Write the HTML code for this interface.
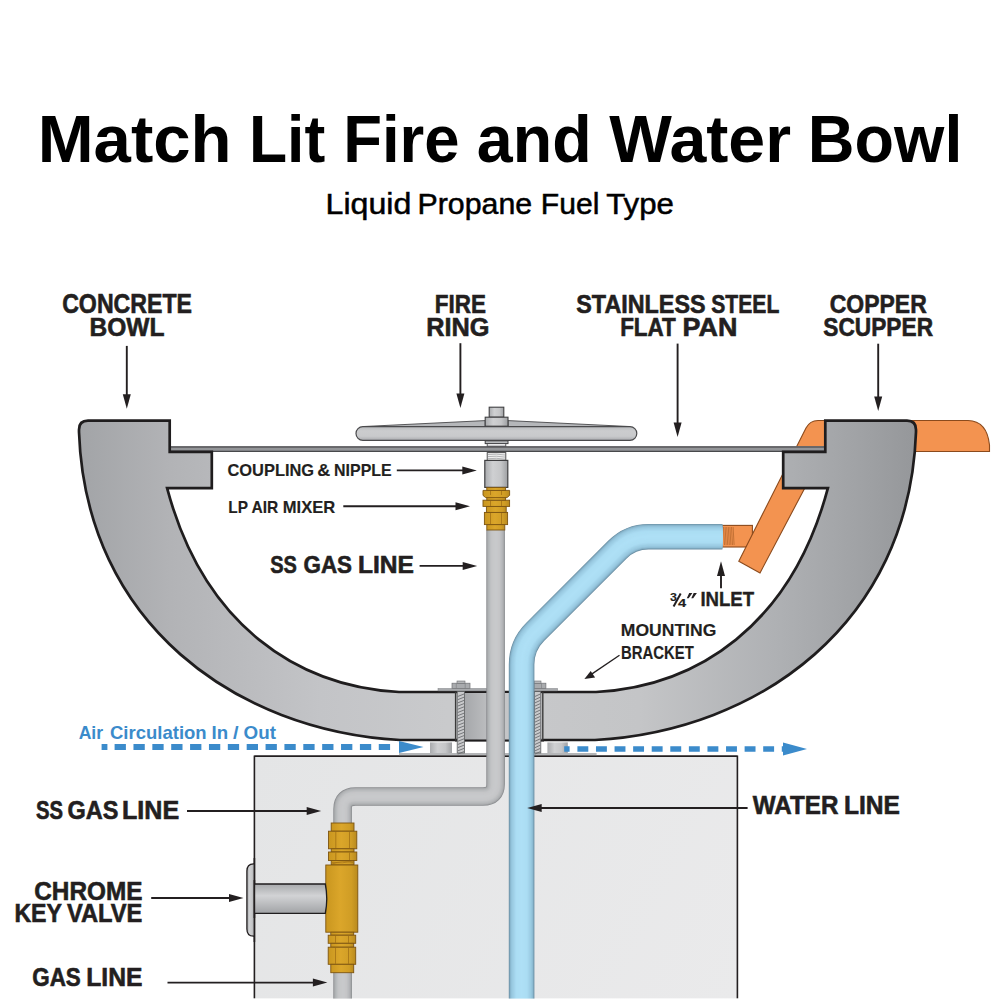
<!DOCTYPE html>
<html><head><meta charset="utf-8"><style>
html,body{margin:0;padding:0;background:#fff;width:1000px;height:1000px;overflow:hidden}
svg{display:block}
text{font-family:"Liberation Sans",sans-serif}
</style></head><body>
<svg width="1000" height="1000" viewBox="0 0 1000 1000">
<defs>
<linearGradient id="bowlG" gradientUnits="userSpaceOnUse" x1="79" y1="0" x2="916" y2="0">
 <stop offset="0" stop-color="#a2a4a7"/><stop offset="0.109" stop-color="#b2b3b6"/><stop offset="0.288" stop-color="#c3c4c7"/><stop offset="0.44" stop-color="#c9cacc"/><stop offset="0.67" stop-color="#c4c5c7"/><stop offset="0.838" stop-color="#aeb0b3"/><stop offset="0.933" stop-color="#a0a2a5"/><stop offset="1" stop-color="#95979a"/>
</linearGradient>
<linearGradient id="midG" gradientUnits="userSpaceOnUse" x1="464" y1="0" x2="541" y2="0">
 <stop offset="0" stop-color="#a5a7aa"/><stop offset="0.4" stop-color="#c3c4c6"/><stop offset="1" stop-color="#c7c8ca"/>
</linearGradient>
<linearGradient id="boxG" gradientUnits="userSpaceOnUse" x1="254" y1="756" x2="738" y2="998">
 <stop offset="0" stop-color="#e4e5e6"/><stop offset="1" stop-color="#eaeaeb"/>
</linearGradient>
<linearGradient id="pipeV" x1="0" y1="0" x2="1" y2="0">
 <stop offset="0" stop-color="#a9abae"/><stop offset="0.35" stop-color="#cfd0d2"/><stop offset="0.7" stop-color="#c5c6c8"/><stop offset="1" stop-color="#9d9fa2"/>
</linearGradient>
<linearGradient id="brassV" x1="0" y1="0" x2="1" y2="0">
 <stop offset="0" stop-color="#c9961f"/><stop offset="0.45" stop-color="#dba62a"/><stop offset="0.8" stop-color="#d09d25"/><stop offset="1" stop-color="#b98a1e"/>
</linearGradient>
<linearGradient id="ringV" x1="0" y1="0" x2="0" y2="1">
 <stop offset="0" stop-color="#b9bbbe"/><stop offset="0.3" stop-color="#cbccce"/><stop offset="0.7" stop-color="#c9cacc"/><stop offset="1" stop-color="#a9abae"/>
</linearGradient>
<linearGradient id="steelV" x1="0" y1="0" x2="0" y2="1">
 <stop offset="0" stop-color="#a7a9ac"/><stop offset="0.4" stop-color="#d2d3d5"/><stop offset="1" stop-color="#a1a3a6"/>
</linearGradient>
</defs>
<text x="37.7" y="162" font-size="67.25" font-weight="700" textLength="193.87" lengthAdjust="spacingAndGlyphs" fill="#000" >Match</text>
<text x="249.03" y="162" font-size="67.25" font-weight="700" textLength="76.2" lengthAdjust="spacingAndGlyphs" fill="#000" >Lit</text>
<text x="343.16" y="162" font-size="67.25" font-weight="700" textLength="116.4" lengthAdjust="spacingAndGlyphs" fill="#000" >Fire</text>
<text x="476.86" y="162" font-size="67.25" font-weight="700" textLength="114.83" lengthAdjust="spacingAndGlyphs" fill="#000" >and</text>
<text x="609.3" y="162" font-size="67.25" font-weight="700" textLength="181.75" lengthAdjust="spacingAndGlyphs" fill="#000" >Water</text>
<text x="807.87" y="162" font-size="67.25" font-weight="700" textLength="154.58" lengthAdjust="spacingAndGlyphs" fill="#000" >Bowl</text>
<text x="325.53" y="214" font-size="29.57" font-weight="400" textLength="85.79" lengthAdjust="spacingAndGlyphs" fill="#000" stroke="#000" stroke-width="0.5">Liquid</text>
<text x="417.47" y="214" font-size="29.57" font-weight="400" textLength="114.66" lengthAdjust="spacingAndGlyphs" fill="#000" stroke="#000" stroke-width="0.5">Propane</text>
<text x="540.79" y="214" font-size="29.57" font-weight="400" textLength="58.58" lengthAdjust="spacingAndGlyphs" fill="#000" stroke="#000" stroke-width="0.5">Fuel</text>
<text x="606.28" y="214" font-size="29.57" font-weight="400" textLength="67.62" lengthAdjust="spacingAndGlyphs" fill="#000" stroke="#000" stroke-width="0.5">Type</text>
<rect x="254.4" y="756.2" width="483" height="242.4" fill="url(#boxG)"/>
<path d="M254.4,998.6 V756.2 H737.4 V998.6" fill="none" stroke="#231f20" stroke-width="1.6"/>
<rect x="399" y="753" width="197.6" height="2.6" fill="#b4b6b8"/>
<line x1="254.4" y1="756.2" x2="737.4" y2="756.2" stroke="#231f20" stroke-width="1.6"/>
<rect x="430" y="742.4" width="22" height="10.6" fill="url(#pipeV)"/>
<rect x="547.4" y="742.4" width="20.4" height="10.6" fill="url(#pipeV)"/>
<rect x="722.4" y="525.4" width="30" height="21.6" fill="#f39350" stroke="#8b4a1c" stroke-width="1.1"/>
<path d="M723.5,527 L724.5,545 M725.1,527 L726.1,545 M726.7,527 L727.7,545 M728.3,527 L729.3,545 M729.9,527 L730.9,545 M731.5,527 L732.5,545 M733.1,527 L734.1,545 " stroke="#a55a22" stroke-width="0.6" fill="none"/>
<path d="M805,451.5 L970,451.5 L989.5,451.5 L989.5,445 Q987,421 968,420.5 L818,420.5 Q810,420.5 806,428 L738.8,561.2 L760,572.9 L827,446 Z" fill="#f39350" stroke="#8b4a1c" stroke-width="1.1"/>
<rect x="170.8" y="446.2" width="653.4" height="5.8" fill="#939598"/>
<line x1="170.8" y1="447" x2="824.2" y2="447" stroke="#58595b" stroke-width="1.6"/>
<line x1="170.8" y1="451.3" x2="824.2" y2="451.3" stroke="#48494b" stroke-width="1.3"/>
<path d="M79,432 L79,429.7 Q79,420.7 88,420.7 L169.7,420.7 L169.7,451.9 L211.8,451.9 L211.8,488.2 L167.1,488.2 C203.9,625.7 297.9,686.5 399,692 L596,692 C697.1,686.5 791.1,625.7 827.9,488.2 L783.2,488.2 L783.2,451.9 L825.3,451.9 L825.3,420.7 L907,420.7 Q916,420.7 916,429.7 L916,432 C909.3,623.5 759.2,730.8 595,740 L400,740 C235.8,730.8 85.7,623.5 79,432 Z" fill="url(#bowlG)" stroke="#1f1d1e" stroke-width="2.7" stroke-linejoin="miter"/>
<rect x="464.5" y="692" width="77" height="48.5" fill="url(#midG)"/>
<line x1="455" y1="692" x2="544" y2="692" stroke="#1f1d1e" stroke-width="2"/>
<line x1="455" y1="740.6" x2="544" y2="740.6" stroke="#1f1d1e" stroke-width="2"/>
<line x1="455.6" y1="692" x2="455.6" y2="740.6" stroke="#3a3a3a" stroke-width="1.4"/>
<line x1="542.8" y1="692" x2="542.8" y2="740.6" stroke="#3a3a3a" stroke-width="1.4"/>
<rect x="438" y="688.5" width="48.5" height="2.4" fill="#a8aaad" stroke="#7d7f82" stroke-width="0.5"/>
<rect x="534" y="688.5" width="23.6" height="2.4" fill="#a8aaad" stroke="#7d7f82" stroke-width="0.5"/>
<rect x="457.2" y="691.5" width="7.3" height="61.5" fill="#c9cacc" stroke="#5a5c5e" stroke-width="0.8"/>
<path d="M457.7,696.5 L464.0,694 M457.7,699.7 L464.0,697.2 M457.7,702.9000000000001 L464.0,700.4000000000001 M457.7,706.1000000000001 L464.0,703.6000000000001 M457.7,709.3000000000002 L464.0,706.8000000000002 M457.7,712.5000000000002 L464.0,710.0000000000002 M457.7,715.7000000000003 L464.0,713.2000000000003 M457.7,718.9000000000003 L464.0,716.4000000000003 M457.7,722.1000000000004 L464.0,719.6000000000004 M457.7,725.3000000000004 L464.0,722.8000000000004 M457.7,728.5000000000005 L464.0,726.0000000000005 M457.7,731.7000000000005 L464.0,729.2000000000005 M457.7,734.9000000000005 L464.0,732.4000000000005 M457.7,738.1000000000006 L464.0,735.6000000000006 M457.7,741.3000000000006 L464.0,738.8000000000006 M457.7,744.5000000000007 L464.0,742.0000000000007 M457.7,747.7000000000007 L464.0,745.2000000000007 M457.7,750.9000000000008 L464.0,748.4000000000008 M457.7,754.1000000000008 L464.0,751.6000000000008 " stroke="#6b6d70" stroke-width="0.9" fill="none"/>
<rect x="534.4" y="691.5" width="6.4" height="61.5" fill="#c9cacc" stroke="#5a5c5e" stroke-width="0.8"/>
<path d="M534.9,696.5 L540.3,694 M534.9,699.7 L540.3,697.2 M534.9,702.9000000000001 L540.3,700.4000000000001 M534.9,706.1000000000001 L540.3,703.6000000000001 M534.9,709.3000000000002 L540.3,706.8000000000002 M534.9,712.5000000000002 L540.3,710.0000000000002 M534.9,715.7000000000003 L540.3,713.2000000000003 M534.9,718.9000000000003 L540.3,716.4000000000003 M534.9,722.1000000000004 L540.3,719.6000000000004 M534.9,725.3000000000004 L540.3,722.8000000000004 M534.9,728.5000000000005 L540.3,726.0000000000005 M534.9,731.7000000000005 L540.3,729.2000000000005 M534.9,734.9000000000005 L540.3,732.4000000000005 M534.9,738.1000000000006 L540.3,735.6000000000006 M534.9,741.3000000000006 L540.3,738.8000000000006 M534.9,744.5000000000007 L540.3,742.0000000000007 M534.9,747.7000000000007 L540.3,745.2000000000007 M534.9,750.9000000000008 L540.3,748.4000000000008 M534.9,754.1000000000008 L540.3,751.6000000000008 " stroke="#6b6d70" stroke-width="0.9" fill="none"/>
<rect x="452" y="683.2" width="18" height="5.4" fill="#a9abae" stroke="#6f7174" stroke-width="0.7"/>
<path d="M456.3,683.5 V688.3 M465.2,683.5 V688.3" stroke="#7a7c7f" stroke-width="0.6"/>
<rect x="457" y="681" width="8" height="2.3" fill="#b5b7b9" stroke="#6f7174" stroke-width="0.6"/>
<rect x="534.5" y="683.2" width="11.4" height="5.4" fill="#a9abae" stroke="#6f7174" stroke-width="0.7"/>
<path d="M541.5,683.5 V688.3" stroke="#7a7c7f" stroke-width="0.6"/>
<rect x="534.5" y="681" width="6.5" height="2.3" fill="#b5b7b9" stroke="#6f7174" stroke-width="0.6"/>
<path d="M495.6,530 L495.6,784 Q495.6,796.5 483,796.5 L355.4,796.5 Q342.6,796.5 342.6,809 L342.6,1000" fill="none" stroke="#8a8c8f" stroke-width="18.6" />
<path d="M495.6,530 L495.6,784 Q495.6,796.5 483,796.5 L355.4,796.5 Q342.6,796.5 342.6,809 L342.6,1000" fill="none" stroke="#a2a4a7" stroke-width="17.2" />
<path d="M495.6,530 L495.6,784 Q495.6,796.5 483,796.5 L355.4,796.5 Q342.6,796.5 342.6,809 L342.6,1000" fill="none" stroke="#adafb1" stroke-width="15.8" />
<path d="M495.6,530 L495.6,784 Q495.6,796.5 483,796.5 L355.4,796.5 Q342.6,796.5 342.6,809 L342.6,1000" fill="none" stroke="#b4b6b8" stroke-width="14.4" />
<path d="M495.6,530 L495.6,784 Q495.6,796.5 483,796.5 L355.4,796.5 Q342.6,796.5 342.6,809 L342.6,1000" fill="none" stroke="#b8babc" stroke-width="13.0" />
<path d="M495.6,530 L495.6,784 Q495.6,796.5 483,796.5 L355.4,796.5 Q342.6,796.5 342.6,809 L342.6,1000" fill="none" stroke="#bcbec0" stroke-width="11.6" />
<path d="M495.6,530 L495.6,784 Q495.6,796.5 483,796.5 L355.4,796.5 Q342.6,796.5 342.6,809 L342.6,1000" fill="none" stroke="#c0c1c3" stroke-width="10.2" />
<path d="M495.6,530 L495.6,784 Q495.6,796.5 483,796.5 L355.4,796.5 Q342.6,796.5 342.6,809 L342.6,1000" fill="none" stroke="#c4c5c7" stroke-width="8.8" />
<path d="M495.6,530 L495.6,784 Q495.6,796.5 483,796.5 L355.4,796.5 Q342.6,796.5 342.6,809 L342.6,1000" fill="none" stroke="#c5c6c8" stroke-width="7.4" />
<path d="M495.6,530 L495.6,784 Q495.6,796.5 483,796.5 L355.4,796.5 Q342.6,796.5 342.6,809 L342.6,1000" fill="none" stroke="#c6c7c9" stroke-width="6.0" />
<path d="M495.6,530 L495.6,784 Q495.6,796.5 483,796.5 L355.4,796.5 Q342.6,796.5 342.6,809 L342.6,1000" fill="none" stroke="#c7c8ca" stroke-width="4.6" />
<path d="M495.6,530 L495.6,784 Q495.6,796.5 483,796.5 L355.4,796.5 Q342.6,796.5 342.6,809 L342.6,1000" fill="none" stroke="#c7c8ca" stroke-width="3.2" />
<path d="M495.6,530 L495.6,784 Q495.6,796.5 483,796.5 L355.4,796.5 Q342.6,796.5 342.6,809 L342.6,1000" fill="none" stroke="#c8c9cb" stroke-width="1.8" />
<path d="M521.6,1000 L521.6,664.45 A46,46 0 0 1 535.07,631.93 L617.41,549.59 A44,44 0 0 1 648.53,536.7 L722.4,536.7" fill="none" stroke="#6a8ea3" stroke-width="25.6" />
<path d="M521.6,1000 L521.6,664.45 A46,46 0 0 1 535.07,631.93 L617.41,549.59 A44,44 0 0 1 648.53,536.7 L722.4,536.7" fill="none" stroke="#80abc1" stroke-width="24.2" />
<path d="M521.6,1000 L521.6,664.45 A46,46 0 0 1 535.07,631.93 L617.41,549.59 A44,44 0 0 1 648.53,536.7 L722.4,536.7" fill="none" stroke="#8bb9d0" stroke-width="22.8" />
<path d="M521.6,1000 L521.6,664.45 A46,46 0 0 1 535.07,631.93 L617.41,549.59 A44,44 0 0 1 648.53,536.7 L722.4,536.7" fill="none" stroke="#92c1d9" stroke-width="21.4" />
<path d="M521.6,1000 L521.6,664.45 A46,46 0 0 1 535.07,631.93 L617.41,549.59 A44,44 0 0 1 648.53,536.7 L722.4,536.7" fill="none" stroke="#98c8e0" stroke-width="20.0" />
<path d="M521.6,1000 L521.6,664.45 A46,46 0 0 1 535.07,631.93 L617.41,549.59 A44,44 0 0 1 648.53,536.7 L722.4,536.7" fill="none" stroke="#9bcce3" stroke-width="18.6" />
<path d="M521.6,1000 L521.6,664.45 A46,46 0 0 1 535.07,631.93 L617.41,549.59 A44,44 0 0 1 648.53,536.7 L722.4,536.7" fill="none" stroke="#9ecfe6" stroke-width="17.2" />
<path d="M521.6,1000 L521.6,664.45 A46,46 0 0 1 535.07,631.93 L617.41,549.59 A44,44 0 0 1 648.53,536.7 L722.4,536.7" fill="none" stroke="#a1d2e9" stroke-width="15.8" />
<path d="M521.6,1000 L521.6,664.45 A46,46 0 0 1 535.07,631.93 L617.41,549.59 A44,44 0 0 1 648.53,536.7 L722.4,536.7" fill="none" stroke="#a5d6ed" stroke-width="14.4" />
<path d="M521.6,1000 L521.6,664.45 A46,46 0 0 1 535.07,631.93 L617.41,549.59 A44,44 0 0 1 648.53,536.7 L722.4,536.7" fill="none" stroke="#a8d9f0" stroke-width="13.0" />
<path d="M521.6,1000 L521.6,664.45 A46,46 0 0 1 535.07,631.93 L617.41,549.59 A44,44 0 0 1 648.53,536.7 L722.4,536.7" fill="none" stroke="#abddf3" stroke-width="11.6" />
<path d="M521.6,1000 L521.6,664.45 A46,46 0 0 1 535.07,631.93 L617.41,549.59 A44,44 0 0 1 648.53,536.7 L722.4,536.7" fill="none" stroke="#abddf3" stroke-width="10.2" />
<path d="M521.6,1000 L521.6,664.45 A46,46 0 0 1 535.07,631.93 L617.41,549.59 A44,44 0 0 1 648.53,536.7 L722.4,536.7" fill="none" stroke="#acdef4" stroke-width="8.8" />
<path d="M521.6,1000 L521.6,664.45 A46,46 0 0 1 535.07,631.93 L617.41,549.59 A44,44 0 0 1 648.53,536.7 L722.4,536.7" fill="none" stroke="#acdef4" stroke-width="7.4" />
<path d="M521.6,1000 L521.6,664.45 A46,46 0 0 1 535.07,631.93 L617.41,549.59 A44,44 0 0 1 648.53,536.7 L722.4,536.7" fill="none" stroke="#addef4" stroke-width="6.0" />
<path d="M521.6,1000 L521.6,664.45 A46,46 0 0 1 535.07,631.93 L617.41,549.59 A44,44 0 0 1 648.53,536.7 L722.4,536.7" fill="none" stroke="#addff5" stroke-width="4.6" />
<path d="M521.6,1000 L521.6,664.45 A46,46 0 0 1 535.07,631.93 L617.41,549.59 A44,44 0 0 1 648.53,536.7 L722.4,536.7" fill="none" stroke="#aedff5" stroke-width="3.2" />
<path d="M521.6,1000 L521.6,664.45 A46,46 0 0 1 535.07,631.93 L617.41,549.59 A44,44 0 0 1 648.53,536.7 L722.4,536.7" fill="none" stroke="#aee0f6" stroke-width="1.8" />
<path d="M364,426.5 L485.2,420.6 L485.2,426.5 Z M508,420.6 L629,426.5 L508,426.5 Z" fill="#b5b7ba" stroke="#4a4a4c" stroke-width="0.9"/>
<rect x="356" y="426.7" width="280.8" height="13.6" rx="6.8" fill="url(#ringV)" stroke="#4a4a4c" stroke-width="1.2"/>
<rect x="489.2" y="407.2" width="14.6" height="10" fill="url(#pipeV)" stroke="#3f3f41" stroke-width="1.1"/>
<rect x="485.2" y="417.2" width="22.8" height="9" fill="url(#pipeV)" stroke="#3f3f41" stroke-width="1.1"/>
<rect x="485.2" y="440.8" width="22.8" height="2.8" fill="#b9bbbd" stroke="#3f3f41" stroke-width="1"/>
<rect x="487.2" y="443.6" width="18.6" height="2.6" fill="#e9e9ea" stroke="#3f3f41" stroke-width="0.8"/>
<rect x="487.2" y="452.6" width="18.6" height="7.8" fill="#efefef" stroke="#3f3f41" stroke-width="0.9"/>
<path d="M488,454.5 Q496.5,453.5 505,455 M488,456.6 Q496.5,455.6 505,457.1 M488,458.7 Q496.5,457.7 505,459.2" stroke="#8a8c8f" stroke-width="0.6" fill="none"/>
<rect x="484.8" y="460.4" width="23" height="27" fill="url(#pipeV)" stroke="#3f3f41" stroke-width="1.2"/>
<rect x="486.8" y="524.6" width="18" height="5.4" fill="url(#brassV)" stroke="#7d5410" stroke-width="0.9"/>
<rect x="484.4" y="512.4" width="23.2" height="12.2" fill="url(#brassV)" stroke="#7d5410" stroke-width="0.9"/>
<path d="M490.5,512.8 V524.2 M501.5,512.8 V524.2" stroke="#9c6a12" stroke-width="0.7"/>
<rect x="486.4" y="506.4" width="19.8" height="6" fill="url(#brassV)" stroke="#7d5410" stroke-width="0.9"/>
<rect x="483" y="500.2" width="26.6" height="6.2" fill="url(#brassV)" stroke="#7d5410" stroke-width="0.9"/>
<path d="M490.5,500.5 V506 M501.5,500.5 V506" stroke="#9c6a12" stroke-width="0.7"/>
<rect x="486.8" y="495.4" width="18.8" height="4.8" fill="url(#brassV)" stroke="#7d5410" stroke-width="0.9"/>
<path d="M483,490.4 H509.6 V495.4 L507,497.6 H485.6 L483,495.4 Z" fill="url(#brassV)" stroke="#7d5410" stroke-width="0.9"/>
<path d="M490.5,490.8 V495 M501.5,490.8 V495" stroke="#9c6a12" stroke-width="0.7"/>
<rect x="486.8" y="487.4" width="18.8" height="3" fill="url(#brassV)" stroke="#7d5410" stroke-width="0.9"/>
<path d="M254.4,863.8 L253.5,863.8 Q246.9,863.8 246.9,871 L246.9,929 Q246.9,936.2 253.5,936.2 L254.4,936.2" fill="url(#pipeV)" stroke="#231f20" stroke-width="1.3"/>
<line x1="254.4" y1="858" x2="254.4" y2="942" stroke="#231f20" stroke-width="1.6"/>
<rect x="331.2" y="823" width="22.8" height="8.2" fill="url(#brassV)" stroke="#7d5410" stroke-width="0.9"/>
<rect x="328.5" y="831.2" width="28.3" height="17.6" fill="url(#brassV)" stroke="#7d5410" stroke-width="0.9"/>
<path d="M335.8,831.7 V848.3 M349.5,831.7 V848.3" stroke="#9c6a12" stroke-width="0.7"/>
<rect x="331.2" y="848.8" width="22.8" height="3.2" fill="url(#brassV)" stroke="#7d5410" stroke-width="0.9"/>
<rect x="328.5" y="852" width="28.3" height="8.5" fill="url(#brassV)" stroke="#7d5410" stroke-width="0.9"/>
<path d="M335.8,852.5 V860.0 M349.5,852.5 V860.0" stroke="#9c6a12" stroke-width="0.7"/>
<rect x="331.2" y="860.5" width="22.8" height="4.5" fill="url(#brassV)" stroke="#7d5410" stroke-width="0.9"/>
<path d="M332,864 Q342,860 353,862.5 M332,862.5 Q342,864 353,861" stroke="#9c6a12" stroke-width="0.6" fill="none"/>
<rect x="325.8" y="865" width="32.0" height="67.2" fill="url(#brassV)" stroke="#7d5410" stroke-width="0.9"/>
<rect x="330.8" y="932.2" width="22.9" height="3.0" fill="url(#brassV)" stroke="#7d5410" stroke-width="0.9"/>
<rect x="328.2" y="935.2" width="27.5" height="8.1" fill="url(#brassV)" stroke="#7d5410" stroke-width="0.9"/>
<path d="M335.5,935.7 V942.8 M348.5,935.7 V942.8" stroke="#9c6a12" stroke-width="0.7"/>
<rect x="330.8" y="943.3" width="22.9" height="3.9" fill="url(#brassV)" stroke="#7d5410" stroke-width="0.9"/>
<rect x="328.2" y="947.2" width="27.5" height="17.1" fill="url(#brassV)" stroke="#7d5410" stroke-width="0.9"/>
<path d="M335.5,947.7 V963.8 M348.5,947.7 V963.8" stroke="#9c6a12" stroke-width="0.7"/>
<rect x="330.8" y="964.3" width="22.9" height="8.4" fill="url(#brassV)" stroke="#7d5410" stroke-width="0.9"/>
<path d="M254.5,884 L325.3,884 Q328.2,898.6 325.3,913.3 L254.5,913.3" fill="url(#steelV)" stroke="#1f1d1e" stroke-width="1.3"/>
<line x1="254.4" y1="880" x2="254.4" y2="918" stroke="#231f20" stroke-width="1.6"/>
<rect x="0" y="998.6" width="1000" height="2" fill="#fff"/>
<text x="78.67" y="738.8" font-size="17.53" font-weight="700" textLength="24.47" lengthAdjust="spacingAndGlyphs" fill="#3b8bcb" >Air</text>
<text x="109.96" y="738.8" font-size="17.53" font-weight="700" textLength="96.7" lengthAdjust="spacingAndGlyphs" fill="#3b8bcb" >Circulation</text>
<text x="211.49" y="738.8" font-size="17.53" font-weight="700" textLength="16.61" lengthAdjust="spacingAndGlyphs" fill="#3b8bcb" >In</text>
<text x="233.1" y="738.8" font-size="17.53" font-weight="700" textLength="5.56" lengthAdjust="spacingAndGlyphs" fill="#3b8bcb" >/</text>
<text x="243.55" y="738.8" font-size="17.53" font-weight="700" textLength="32.37" lengthAdjust="spacingAndGlyphs" fill="#3b8bcb" >Out</text>
<path d="M101.6,744.1 h5.8 v5.8 h-5.8 Z M114.60,744.1 h11.3 v5.8 h-11.3 Z M133.47,744.1 h11.3 v5.8 h-11.3 Z M152.34,744.1 h11.3 v5.8 h-11.3 Z M171.21,744.1 h11.3 v5.8 h-11.3 Z M190.08,744.1 h11.3 v5.8 h-11.3 Z M208.95,744.1 h11.3 v5.8 h-11.3 Z M227.82,744.1 h11.3 v5.8 h-11.3 Z M246.69,744.1 h11.3 v5.8 h-11.3 Z M265.56,744.1 h11.3 v5.8 h-11.3 Z M284.43,744.1 h11.3 v5.8 h-11.3 Z M303.30,744.1 h11.3 v5.8 h-11.3 Z M322.17,744.1 h11.3 v5.8 h-11.3 Z M341.04,744.1 h11.3 v5.8 h-11.3 Z M359.91,744.1 h11.3 v5.8 h-11.3 Z M378.78,744.1 h11.3 v5.8 h-11.3 Z " fill="#3b8bcb"/>
<path d="M399,741 L423.5,747 L399,753 Z" fill="#3b8bcb"/>
<path d="M564.2,746.2 h5.4 v5.6 h-5.4 Z M577.40,746.2 h10.9 v5.6 h-10.9 Z M595.98,746.2 h10.9 v5.6 h-10.9 Z M614.56,746.2 h10.9 v5.6 h-10.9 Z M633.14,746.2 h10.9 v5.6 h-10.9 Z M651.72,746.2 h10.9 v5.6 h-10.9 Z M670.30,746.2 h10.9 v5.6 h-10.9 Z M688.88,746.2 h10.9 v5.6 h-10.9 Z M707.46,746.2 h10.9 v5.6 h-10.9 Z M726.04,746.2 h10.9 v5.6 h-10.9 Z M744.62,746.2 h10.9 v5.6 h-10.9 Z M763.20,746.2 h10.9 v5.6 h-10.9 Z M781.78,746.2 h10.9 v5.6 h-10.9 Z " fill="#3b8bcb"/>
<path d="M783,742.5 L807,749 L783,755.5 Z" fill="#3b8bcb"/>
<text x="62.17" y="313.3" font-size="27.0" font-weight="700" textLength="129.88" lengthAdjust="spacingAndGlyphs" fill="#231f20" stroke="#231f20" stroke-width="0.6">CONCRETE</text>
<text x="89.58" y="336" font-size="26.29" font-weight="700" textLength="74.92" lengthAdjust="spacingAndGlyphs" fill="#231f20" stroke="#231f20" stroke-width="0.6">BOWL</text>
<text x="434.83" y="313.1" font-size="26.67" font-weight="700" textLength="51.23" lengthAdjust="spacingAndGlyphs" fill="#231f20" stroke="#231f20" stroke-width="0.6">FIRE</text>
<text x="426.13" y="336" font-size="26.29" font-weight="700" textLength="63.29" lengthAdjust="spacingAndGlyphs" fill="#231f20" stroke="#231f20" stroke-width="0.6">RING</text>
<text x="576.3" y="312.9" font-size="25.71" font-weight="700" textLength="129.28" lengthAdjust="spacingAndGlyphs" fill="#231f20" stroke="#231f20" stroke-width="0.6">STAINLESS</text>
<text x="711.27" y="312.9" font-size="25.71" font-weight="700" textLength="68.02" lengthAdjust="spacingAndGlyphs" fill="#231f20" stroke="#231f20" stroke-width="0.6">STEEL</text>
<text x="620.13" y="335.7" font-size="25.07" font-weight="700" textLength="55.71" lengthAdjust="spacingAndGlyphs" fill="#231f20" stroke="#231f20" stroke-width="0.6">FLAT</text>
<text x="682.52" y="335.7" font-size="25.07" font-weight="700" textLength="54.79" lengthAdjust="spacingAndGlyphs" fill="#231f20" stroke="#231f20" stroke-width="0.6">PAN</text>
<text x="829.78" y="312.9" font-size="26.0" font-weight="700" textLength="96.95" lengthAdjust="spacingAndGlyphs" fill="#231f20" stroke="#231f20" stroke-width="0.6">COPPER</text>
<text x="823.32" y="335.7" font-size="25.57" font-weight="700" textLength="109.74" lengthAdjust="spacingAndGlyphs" fill="#231f20" stroke="#231f20" stroke-width="0.6">SCUPPER</text>
<text x="227.44" y="476.2" font-size="16.86" font-weight="700" textLength="86.71" lengthAdjust="spacingAndGlyphs" fill="#231f20" stroke="#231f20" stroke-width="0.15">COUPLING</text>
<text x="317.38" y="476.2" font-size="16.86" font-weight="700" textLength="13.0" lengthAdjust="spacingAndGlyphs" fill="#231f20" stroke="#231f20" stroke-width="0.15">&amp;</text>
<text x="334.08" y="476.2" font-size="16.86" font-weight="700" textLength="57.58" lengthAdjust="spacingAndGlyphs" fill="#231f20" stroke="#231f20" stroke-width="0.15">NIPPLE</text>
<text x="228.32" y="512.6" font-size="16.96" font-weight="700" textLength="19.66" lengthAdjust="spacingAndGlyphs" fill="#231f20" stroke="#231f20" stroke-width="0.15">LP</text>
<text x="251.53" y="512.6" font-size="16.96" font-weight="700" textLength="26.81" lengthAdjust="spacingAndGlyphs" fill="#231f20" stroke="#231f20" stroke-width="0.15">AIR</text>
<text x="282.74" y="512.6" font-size="16.96" font-weight="700" textLength="52.51" lengthAdjust="spacingAndGlyphs" fill="#231f20" stroke="#231f20" stroke-width="0.15">MIXER</text>
<text x="270.2" y="572.9" font-size="24.71" font-weight="700" textLength="26.68" lengthAdjust="spacingAndGlyphs" fill="#231f20" stroke="#231f20" stroke-width="0.6">SS</text>
<text x="303.5" y="572.9" font-size="24.71" font-weight="700" textLength="48.52" lengthAdjust="spacingAndGlyphs" fill="#231f20" stroke="#231f20" stroke-width="0.6">GAS</text>
<text x="357.88" y="572.9" font-size="24.71" font-weight="700" textLength="55.95" lengthAdjust="spacingAndGlyphs" fill="#231f20" stroke="#231f20" stroke-width="0.6">LINE</text>
<text x="700.4" y="606.4" font-size="19.71" font-weight="700" textLength="53.77" lengthAdjust="spacingAndGlyphs" fill="#231f20" stroke="#231f20" stroke-width="0.35">INLET</text>
<text x="669.95" y="600.7" font-size="10.86" font-weight="700" textLength="6.9" lengthAdjust="spacingAndGlyphs" fill="#231f20" stroke="#231f20" stroke-width="0.15">3</text>
<text x="678.01" y="606.6" font-size="11.3" font-weight="700" textLength="8.19" lengthAdjust="spacingAndGlyphs" fill="#231f20" stroke="#231f20" stroke-width="0.15">4</text>
<text x="620.77" y="636.4" font-size="16.71" font-weight="700" textLength="95.55" lengthAdjust="spacingAndGlyphs" fill="#231f20" stroke="#231f20" stroke-width="0.15">MOUNTING</text>
<text x="620.96" y="659.4" font-size="17.43" font-weight="700" textLength="72.77" lengthAdjust="spacingAndGlyphs" fill="#231f20" stroke="#231f20" stroke-width="0.15">BRACKET</text>
<text x="752.8" y="814.2" font-size="25.51" font-weight="700" textLength="85.65" lengthAdjust="spacingAndGlyphs" fill="#231f20" stroke="#231f20" stroke-width="0.6">WATER</text>
<text x="843.98" y="814.2" font-size="25.51" font-weight="700" textLength="55.95" lengthAdjust="spacingAndGlyphs" fill="#231f20" stroke="#231f20" stroke-width="0.6">LINE</text>
<text x="35.99" y="819.2" font-size="25.71" font-weight="700" textLength="27.1" lengthAdjust="spacingAndGlyphs" fill="#231f20" stroke="#231f20" stroke-width="0.6">SS</text>
<text x="67.56" y="819.2" font-size="25.71" font-weight="700" textLength="50.91" lengthAdjust="spacingAndGlyphs" fill="#231f20" stroke="#231f20" stroke-width="0.6">GAS</text>
<text x="122.04" y="819.2" font-size="25.71" font-weight="700" textLength="57.21" lengthAdjust="spacingAndGlyphs" fill="#231f20" stroke="#231f20" stroke-width="0.6">LINE</text>
<text x="34.23" y="899.6" font-size="25.86" font-weight="700" textLength="108.21" lengthAdjust="spacingAndGlyphs" fill="#231f20" stroke="#231f20" stroke-width="0.6">CHROME</text>
<text x="14.38" y="922" font-size="26.09" font-weight="700" textLength="47.6" lengthAdjust="spacingAndGlyphs" fill="#231f20" stroke="#231f20" stroke-width="0.6">KEY</text>
<text x="66.96" y="922" font-size="26.09" font-weight="700" textLength="75.48" lengthAdjust="spacingAndGlyphs" fill="#231f20" stroke="#231f20" stroke-width="0.6">VALVE</text>
<text x="32.2" y="986.2" font-size="26.29" font-weight="700" textLength="48.63" lengthAdjust="spacingAndGlyphs" fill="#231f20" stroke="#231f20" stroke-width="0.6">GAS</text>
<text x="86.27" y="986.2" font-size="26.29" font-weight="700" textLength="56.27" lengthAdjust="spacingAndGlyphs" fill="#231f20" stroke="#231f20" stroke-width="0.6">LINE</text>
<line x1="126.8" y1="345.9" x2="126.8" y2="395.3" stroke="#231f20" stroke-width="1.9"/>
<path d="M122.8,394.3 L130.8,394.3 L126.8,408.8 Z" fill="#231f20"/>
<line x1="460.4" y1="343.2" x2="460.4" y2="394.5" stroke="#231f20" stroke-width="1.9"/>
<path d="M456.4,393.5 L464.4,393.5 L460.4,408 Z" fill="#231f20"/>
<line x1="677.6" y1="343.6" x2="677.6" y2="423.5" stroke="#231f20" stroke-width="1.9"/>
<path d="M673.6,422.5 L681.6,422.5 L677.6,437 Z" fill="#231f20"/>
<line x1="878.2" y1="343.7" x2="878.2" y2="397.5" stroke="#231f20" stroke-width="1.9"/>
<path d="M874.2,396.5 L882.2,396.5 L878.2,411 Z" fill="#231f20"/>
<line x1="396.8" y1="470.4" x2="463.3" y2="470.4" stroke="#231f20" stroke-width="1.9"/>
<path d="M462.3,466.4 L462.3,474.4 L476.8,470.4 Z" fill="#231f20"/>
<line x1="343.3" y1="506.3" x2="456.5" y2="506.3" stroke="#231f20" stroke-width="1.9"/>
<path d="M455.5,502.3 L455.5,510.3 L470,506.3 Z" fill="#231f20"/>
<line x1="419.6" y1="565.9" x2="463.7" y2="565.9" stroke="#231f20" stroke-width="1.9"/>
<path d="M462.7,561.9 L462.7,569.9 L477.2,565.9 Z" fill="#231f20"/>
<line x1="187" y1="811" x2="307.7" y2="811" stroke="#231f20" stroke-width="1.9"/>
<path d="M306.7,807 L306.7,815 L321.2,811 Z" fill="#231f20"/>
<line x1="151.2" y1="898" x2="230.0" y2="898" stroke="#231f20" stroke-width="1.9"/>
<path d="M229.0,894 L229.0,902 L243.5,898 Z" fill="#231f20"/>
<line x1="167.5" y1="982.6" x2="313.9" y2="982.6" stroke="#231f20" stroke-width="1.9"/>
<path d="M312.9,978.6 L312.9,986.6 L327.4,982.6 Z" fill="#231f20"/>
<line x1="747.6" y1="808" x2="540.7" y2="808" stroke="#231f20" stroke-width="1.9"/>
<path d="M541.7,804 L541.7,812 L527.2,808 Z" fill="#231f20"/>
<path d="M673.6,606.4 L680.7,593.4" stroke="#231f20" stroke-width="2"/>
<path d="M686.8,598.3 L689.2,593 L692.4,593 L688.7,598.3 Z M691.3,598.3 L693.7,593 L696.9,593 L693.2,598.3 Z" fill="#231f20"/>
<line x1="721" y1="588.2" x2="721" y2="575" stroke="#231f20" stroke-width="1.9"/>
<path d="M717,576 L725,576 L721,561.2 Z" fill="#231f20"/>
<line x1="619.5" y1="655.3" x2="592" y2="673.9" stroke="#231f20" stroke-width="1.3"/>
<path d="M584.4,679 L590.7,671 L595.1,677.5 Z" fill="#231f20"/>
</svg></body></html>
